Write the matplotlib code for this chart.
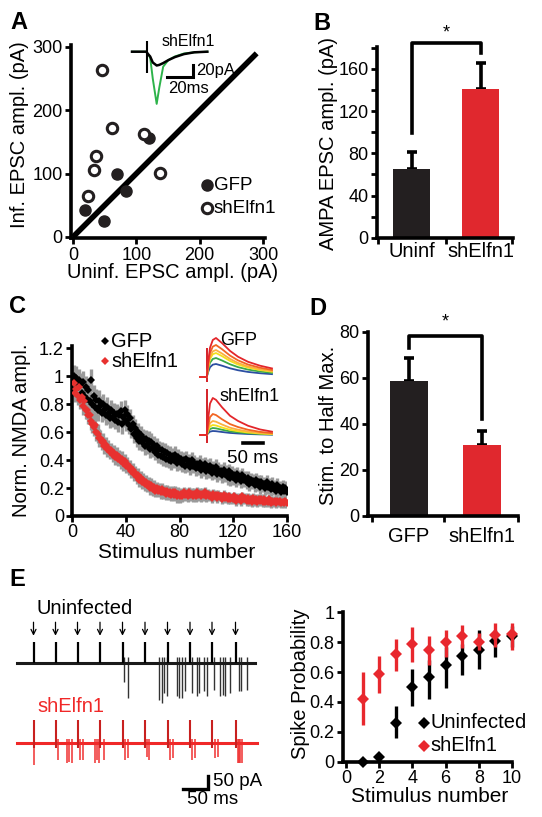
import numpy as np
import matplotlib
matplotlib.use('Agg')
import matplotlib.pyplot as plt

plt.rcParams['font.family'] = ['Liberation Sans', 'DejaVu Sans']

W, H = 542, 817
fig = plt.figure(figsize=(W / 100, H / 100), dpi=100)

BLACK = '#231f20'
RED = '#e0282e'

def box(l, t, r, b):
    return [l / W, 1 - b / H, (r - l) / W, (b - t) / H]

def style(ax, lab=13):
    for s in ['top', 'right']:
        ax.spines[s].set_visible(False)
    for s in ['left', 'bottom']:
        ax.spines[s].set_linewidth(2.6)
        ax.spines[s].set_color('k')
    ax.tick_params(direction='out', length=4, width=2, labelsize=lab, pad=2, colors='k')
    ax.tick_params(which='minor', direction='out', length=4, width=2)

# ---------------- data ----------------
# Panel A
a_gfp_uninf = [19, 49, 69, 84, 120]
a_gfp_inf = [42, 25, 99, 73, 157]
a_sh_uninf = [45, 62, 36, 33, 24, 112, 138]
a_sh_inf = [263, 172, 128, 106, 64, 163, 101]
a_unity = [0, 290]
a_ticks = [0, 100, 200, 300]
# Panel A inset trace (ms, pA)
ai_t = [0, 11, 12, 14, 16, 19, 21, 24, 28, 33, 40, 48, 58]
ai_black = [0, 0, -3, -8, -18, -23, -22, -19, -14, -9, -4, -1, 0]
ai_green = [0, 0, -3, -10, -45, -87, -60, -25, -14, -8, -3, -1, 0]
ai_artifact = [18, -35]

# Panel B
b_cats = ['Uninf', 'shElfn1']
b_means = [65, 141]
b_sem = [16, 25]
b_ticks = [0, 40, 80, 120, 160]

# Panel C
c_gfp = [1.00, 0.96, 0.99, 0.92, 0.97, 0.94, 0.88, 0.96, 0.86, 0.92,
         0.84, 0.90, 0.82, 0.97, 0.80, 0.86, 0.78, 0.83, 0.76, 0.82,
         0.79, 0.74, 0.80, 0.76, 0.72, 0.78, 0.73, 0.70, 0.76, 0.71,
         0.74, 0.69, 0.73, 0.67, 0.72, 0.75, 0.66, 0.71, 0.76, 0.68,
         0.73, 0.65, 0.70, 0.62, 0.66, 0.59, 0.63, 0.56, 0.60, 0.54,
         0.58, 0.53, 0.56, 0.50, 0.55, 0.51, 0.54, 0.48, 0.53, 0.49,
         0.51, 0.46, 0.50, 0.44, 0.48, 0.43, 0.47, 0.42, 0.46, 0.41,
         0.45, 0.40, 0.44, 0.39, 0.43, 0.40, 0.44, 0.38, 0.42, 0.39,
         0.41, 0.37, 0.40, 0.36, 0.41, 0.37, 0.39, 0.35, 0.40, 0.36,
         0.38, 0.34, 0.37, 0.35, 0.38, 0.33, 0.36, 0.34, 0.37, 0.32,
         0.35, 0.33, 0.36, 0.31, 0.34, 0.32, 0.35, 0.30, 0.33, 0.31,
         0.32, 0.29, 0.33, 0.30, 0.31, 0.28, 0.32, 0.27, 0.30, 0.28,
         0.29, 0.26, 0.30, 0.27, 0.28, 0.25, 0.29, 0.26, 0.27, 0.24,
         0.27, 0.23, 0.26, 0.24, 0.25, 0.22, 0.26, 0.23, 0.24, 0.21,
         0.24, 0.22, 0.23, 0.20, 0.24, 0.21, 0.22, 0.19, 0.23, 0.20,
         0.21, 0.18, 0.22, 0.19, 0.20, 0.17, 0.21, 0.18, 0.20, 0.17]
c_sh = [0.95, 0.88, 0.91, 0.86, 0.92, 0.83, 0.85, 0.79, 0.82, 0.76,
        0.76, 0.72, 0.72, 0.68, 0.66, 0.64, 0.65, 0.60, 0.59, 0.56,
        0.56, 0.53, 0.54, 0.50, 0.51, 0.48, 0.49, 0.46, 0.47, 0.44,
        0.45, 0.42, 0.44, 0.41, 0.42, 0.39, 0.41, 0.38, 0.39, 0.36,
        0.37, 0.34, 0.35, 0.32, 0.33, 0.30, 0.31, 0.28, 0.29, 0.26,
        0.27, 0.24, 0.26, 0.23, 0.24, 0.22, 0.23, 0.20, 0.22, 0.19,
        0.21, 0.18, 0.20, 0.18, 0.19, 0.17, 0.19, 0.17, 0.18, 0.16,
        0.18, 0.16, 0.17, 0.15, 0.17, 0.15, 0.17, 0.14, 0.16, 0.14,
        0.16, 0.14, 0.17, 0.15, 0.16, 0.14, 0.17, 0.15, 0.16, 0.14,
        0.16, 0.14, 0.17, 0.15, 0.16, 0.14, 0.16, 0.15, 0.17, 0.14,
        0.16, 0.14, 0.15, 0.13, 0.16, 0.14, 0.15, 0.13, 0.15, 0.14,
        0.14, 0.12, 0.15, 0.13, 0.14, 0.12, 0.14, 0.12, 0.13, 0.12,
        0.14, 0.11, 0.13, 0.12, 0.13, 0.11, 0.14, 0.12, 0.13, 0.11,
        0.13, 0.11, 0.12, 0.10, 0.13, 0.11, 0.12, 0.10, 0.12, 0.11,
        0.12, 0.10, 0.12, 0.10, 0.11, 0.10, 0.12, 0.09, 0.11, 0.10,
        0.11, 0.09, 0.11, 0.10, 0.11, 0.09, 0.10, 0.09, 0.11, 0.09]
c_gfp_sem_blocks = [0.08, 0.07, 0.065, 0.06, 0.055, 0.055, 0.05, 0.05]
c_sh_sem_blocks = [0.065, 0.055, 0.05, 0.045, 0.04, 0.035, 0.035, 0.035]
c_stim = np.arange(1, len(c_gfp) + 1)
c_yticks = [0, 0.2, 0.4, 0.6, 0.8, 1.0, 1.2]
c_ylabels = ['0', '0.2', '0.4', '0.6', '0.8', '1', '1.2']
c_xticks = [0, 40, 80, 120, 160]
# Panel C inset traces (ms, arbitrary units)
ci_t = [0, 17, 20, 25, 32, 40, 55, 75, 95, 120, 150, 180]
ci_gfp_shape = [0, 0, 0.35, 0.75, 0.95, 1.0, 0.87, 0.67, 0.52, 0.39, 0.29, 0.22]
ci_sh_shape = [0, 0, 0.4, 0.85, 1.0, 0.95, 0.75, 0.52, 0.38, 0.25, 0.15, 0.09]
ci_colors = ['#2b4ea2', '#3aaa48', '#f3e01b', '#fbb040', '#f26522', '#e3262b']
ci_gfp_amp = [13, 19, 24, 27, 32, 39]
ci_sh_amp = [4, 7, 10, 14, 21, 37]

# Panel D
d_cats = ['GFP', 'shElfn1']
d_means = [58.5, 31]
d_sem = [10, 6]
d_ticks = [0, 20, 40, 60, 80]

# Panel E traces (ms, pA)
e_stim = [33, 77, 121, 166, 211, 256, 301, 346, 390, 437]
e_blk_spk_t = [213, 221, 283, 289, 293, 299, 319, 324, 329, 336, 349, 359,
               364, 374, 379, 393, 406, 411, 416, 426, 443, 447, 459]
e_blk_spk_d = [70, 135, 142, 154, 115, 127, 127, 135, 135, 108, 115, 127,
               115, 108, 127, 104, 127, 123, 127, 115, 108, 108, 104]
e_red_spk_t = [33, 81, 99, 104, 109, 126, 131, 155, 159, 164, 173, 216, 221,
               259, 264, 306, 311, 349, 355, 396, 401, 441, 443, 446, 449]
e_red_spk_d = [86, 67, 79, 73, 79, 65, 65, 79, 65, 79, 65, 65, 60,
               54, 65, 65, 60, 65, 60, 60, 54, 79, 79, 79, 79]
e_duration = 476
# Panel E spike probability
e_x = [1, 2, 3, 4, 5, 6, 7, 8, 9, 10]
e_unf = [0.0, 0.03, 0.26, 0.50, 0.565, 0.645, 0.71, 0.75, 0.81, 0.84]
e_unf_lo = [0.0, 0.0, 0.16, 0.375, 0.42, 0.49, 0.58, 0.62, 0.70, 0.77]
e_unf_hi = [0.0, 0.04, 0.37, 0.62, 0.68, 0.77, 0.79, 0.88, 0.88, 0.91]
e_sh = [0.42, 0.587, 0.72, 0.79, 0.75, 0.80, 0.84, 0.80, 0.85, 0.855]
e_sh_lo = [0.245, 0.46, 0.61, 0.67, 0.65, 0.70, 0.76, 0.75, 0.77, 0.75]
e_sh_hi = [0.60, 0.71, 0.82, 0.90, 0.84, 0.88, 0.915, 0.86, 0.93, 0.93]
e_xticks = [0, 2, 4, 6, 8, 10]
e_yticks = [0, 0.2, 0.4, 0.6, 0.8, 1.0]
e_ylabels = ['0', '0.2', '0.4', '0.6', '0.8', '1']

# ---------------- overlay (pixel coords) ----------------
ov = fig.add_axes([0, 0, 1, 1], zorder=20)
ov.set_xlim(0, W)
ov.set_ylim(H, 0)
ov.axis('off')
ov.patch.set_alpha(0)

def T(x, y, s, size=14.5, ha='center', va='center', **kw):
    ov.text(x, y, s, fontsize=size, ha=ha, va=va, **kw)

# letters
for lx, ly, lt in [(19, 22, 'A'), (322, 23, 'B'), (18, 306, 'C'), (318, 308, 'D'), (17, 580, 'E')]:
    T(lx, ly, lt, size=17, fontweight='bold')

# ---------------- Panel A ----------------
axA = fig.add_axes(box(71.1, 45.1, 264.9, 238.2))
style(axA)
axA.set_xlim(-3, 303)
axA.set_ylim(-2, 303)
axA.plot(a_unity, a_unity, color='k', lw=4, solid_capstyle='butt', zorder=2)
axA.plot(a_gfp_uninf, a_gfp_inf, 'o', color=BLACK, ms=8, zorder=3, clip_on=False)
axA.plot(a_sh_uninf, a_sh_inf, 'o', mfc='white', mec=BLACK, mew=2.2, ms=7.5, zorder=3, clip_on=False)
axA.set_xticks(a_ticks)
axA.set_yticks(a_ticks)
T(20, 135, 'Inf. EPSC ampl. (pA)', rotation=90)
T(173, 273, 'Uninf. EPSC ampl. (pA)')
# legend
ov.plot([206.7], [185], 'o', color=BLACK, ms=8)
ov.plot([206.7], [208.3], 'o', mfc='white', mec=BLACK, mew=2.2, ms=7.5)
T(214, 185, 'GFP', size=13.5, ha='left')
T(214, 208.3, 'shElfn1', size=13.5, ha='left')

# inset A
mpp_a, ppp_a = 0.77, 1.667
axAi = fig.add_axes(box(125, 35, 215, 110))
axAi.axis('off')
axAi.set_xlim(-7 * mpp_a, (215 - 132) * mpp_a)
axAi.set_ylim(-(110 - 51.7) * ppp_a, (51.7 - 35) * ppp_a)
axAi.plot(ai_t, ai_green, color='#2db34a', lw=1.4)
axAi.plot(ai_t, ai_black, color='k', lw=1.8)
axAi.vlines([(147 - 132) * mpp_a], ai_artifact[1], ai_artifact[0], color='k', lw=1.5)
xsb = (193 - 132) * mpp_a
ysb = -(77 - 51.7) * ppp_a
axAi.plot([xsb - 20, xsb, xsb], [ysb, ysb, ysb + 20], color='k', lw=2.2, solid_joinstyle='miter')
T(188, 41.7, 'shElfn1', size=11.5)
T(196, 70, '20pA', size=12, ha='left')
T(168, 88, '20ms', size=12, ha='left')

# ---------------- Panel B ----------------
axB = fig.add_axes(box(377, 46.8, 513, 237.7))
style(axB)
axB.set_xlim(0.5, 2.47)
axB.set_ylim(0, 181)
axB.bar([1, 2], b_means, width=0.536, color=[BLACK, RED], zorder=2)
axB.errorbar([1, 2], b_means, yerr=[[0, 0], b_sem], fmt='none', ecolor='k',
             elinewidth=2.6, capsize=3.5, capthick=2.6, zorder=1)
axB.set_xticks([1, 2])
axB.set_xticklabels(b_cats)
axB.tick_params(axis='x', length=0, labelsize=14.5, pad=3)
axB.set_xticks([0.52, 1.5, 2.45], minor=True)
axB.set_yticks(b_ticks)
axB.set_yticks([20, 60, 100, 140, 180], minor=True)
axB.plot([1, 1, 2, 2], [99, 185, 185, 175], color='k', lw=2.6, clip_on=False)
T(446, 33, '*', size=13)
T(329, 143, 'AMPA EPSC ampl. (pA)', rotation=90)

# ---------------- Panel C ----------------
axC = fig.add_axes(box(72.3, 345.5, 286.7, 516))
style(axC)
axC.set_xlim(0, 160)
axC.set_ylim(0, 1.22)
gsem = np.repeat(c_gfp_sem_blocks, 20)
ssem = np.repeat(c_sh_sem_blocks, 20)
axC.errorbar(c_stim, c_gfp, yerr=gsem, fmt='none', ecolor='#9a9a9a', elinewidth=2.4, zorder=1)
axC.errorbar(c_stim, c_sh, yerr=ssem, fmt='none', ecolor='#9a9a9a', elinewidth=2.4, zorder=1)
axC.plot(c_stim, c_gfp, 'D', color='k', ms=4.2, mew=0, zorder=3)
axC.plot(c_stim, c_sh, 'D', color='#e8312f', ms=4.2, mew=0, zorder=3)
axC.set_xticks(c_xticks)
axC.set_yticks(c_yticks)
axC.set_yticklabels(c_ylabels)
T(21.7, 430, 'Norm. NMDA ampl.', rotation=90)
T(176.7, 553, 'Stimulus number', size=15)
ov.plot([105], [341], 'D', color='k', ms=4.5, mew=0)
ov.plot([105], [361], 'D', color='#e8312f', ms=4.5, mew=0)
T(111, 341, 'GFP', size=14.5, ha='left')
T(111, 361, 'shElfn1', size=14.5, ha='left')

# inset C
axCi = fig.add_axes(box(195, 330, 285, 460))
axCi.axis('off')
axCi.set_xlim(0, 90 * 2.5)
axCi.set_ylim(0, 130)
t0 = (200 - 195) * 2.5
tt = np.array(ci_t) + t0
for base, amps, shape, art in [(83, ci_gfp_amp, ci_gfp_shape, (-5, 29)),
                               (25, ci_sh_amp, ci_sh_shape, (-8, 46))]:
    axCi.vlines([t0 + 17], base + art[0], base + art[1], color='#d42027', lw=1.4)
    for col, amp in zip(ci_colors, amps):
        axCi.plot(tt, base + amp * np.array(shape), color=col, lw=1.3)
axCi.plot([120, 170], [17, 17], color='k', lw=2.6)
T(239, 340, 'GFP', size=13)
T(250, 396.7, 'shElfn1', size=13)
T(253, 458, '50 ms', size=13.5)

# ---------------- Panel D ----------------
axD = fig.add_axes(box(368, 331.7, 518, 516))
style(axD)
axD.set_xlim(0.438, 2.49)
axD.set_ylim(0, 80)
axD.bar([1, 2], d_means, width=0.52, color=[BLACK, RED], zorder=2)
axD.errorbar([1, 2], d_means, yerr=[[0, 0], d_sem], fmt='none', ecolor='k',
             elinewidth=2.6, capsize=3.5, capthick=2.6, zorder=1)
axD.set_xticks([1, 2])
axD.set_xticklabels(d_cats)
axD.tick_params(axis='x', length=0, labelsize=14.5, pad=8)
axD.set_xticks([0.493, 1.479, 2.49], minor=True)
axD.set_yticks(d_ticks)
axD.plot([1, 1, 2, 2], [73, 78, 78, 42], color='k', lw=2.6, clip_on=False)
T(445, 322, '*', size=13)
T(329, 425, 'Stim. to Half Max.', rotation=90)

# ---------------- Panel E traces ----------------
mpp, ppp = 2.0, 50 / 13
axT = fig.add_axes(box(0, 590, 270, 817))
axT.axis('off')
axT.set_xlim(-17 * mpp, (270 - 17) * mpp)
axT.set_ylim(-(817 - 663.3) * ppp, (663.3 - 590) * ppp)
red_off = -(742.7 - 663.3) * ppp
axT.plot([0, e_duration], [0, 0], color='#1a1a1a', lw=2.2, zorder=2)
axT.vlines(e_stim, 0, 81, color='k', lw=1.6, zorder=3)
axT.vlines(e_blk_spk_t, -np.array(e_blk_spk_d), 25, color='#333333', lw=1.0, zorder=1)
for t in e_stim:
    axT.annotate('', xy=(t, 106), xytext=(t, 158),
                 arrowprops=dict(arrowstyle='->', lw=0.9, color='k', mutation_scale=9,
                                 shrinkA=0, shrinkB=0))
axT.plot([0, e_duration + 3], [red_off, red_off], color='#f02828', lw=2.2, zorder=2)
axT.vlines(e_red_spk_t, red_off - np.array(e_red_spk_d), red_off + 15, color='#f03030', lw=1.1, zorder=1)
axT.vlines(e_stim, red_off - 20, red_off + 88, color='#c8201f', lw=1.5, zorder=3)
xs = (208 - 17) * mpp
ys = -(789 - 663.3) * ppp
axT.plot([xs - 50, xs, xs], [ys, ys, ys + 50], color='k', lw=2.4, solid_joinstyle='miter')
T(37, 608, 'Uninfected', size=14.5, ha='left')
T(37, 707, 'shElfn1', size=14.5, ha='left', color='#f02828')
T(213, 782, '50 pA', size=13.5, ha='left')
T(213, 800, '50 ms', size=13.5)

# ---------------- Panel E probability ----------------
axE = fig.add_axes(box(343, 612.3, 512, 761.7))
style(axE)
axE.set_xlim(-0.18, 10.0)
axE.set_ylim(0, 1.0)
ue = np.array(e_unf)
se = np.array(e_sh)
axE.errorbar(e_x, ue, yerr=[ue - np.array(e_unf_lo), np.array(e_unf_hi) - ue], fmt='D',
             color='k', ms=6, mew=0, elinewidth=2.4, capsize=3, capthick=2.4, clip_on=False, zorder=3)
axE.errorbar(e_x, se, yerr=[se - np.array(e_sh_lo), np.array(e_sh_hi) - se], fmt='D',
             color='#e8282e', ms=6, mew=0, elinewidth=2.4, capsize=3, capthick=2.4, clip_on=False, zorder=4)
axE.set_xticks(e_xticks)
axE.set_yticks(e_yticks)
axE.set_yticklabels(e_ylabels)
T(300, 684, 'Spike Probability', rotation=90)
T(430, 797, 'Stimulus number', size=15)
ov.plot([423.7], [723], 'D', color='k', ms=6, mew=0)
ov.plot([423.7], [745.7], 'D', color='#e8282e', ms=6, mew=0)
T(430, 723, 'Uninfected', size=14.5, ha='left')
T(430, 745.7, 'shElfn1', size=14.5, ha='left')

fig.savefig('out.png', dpi=100)
